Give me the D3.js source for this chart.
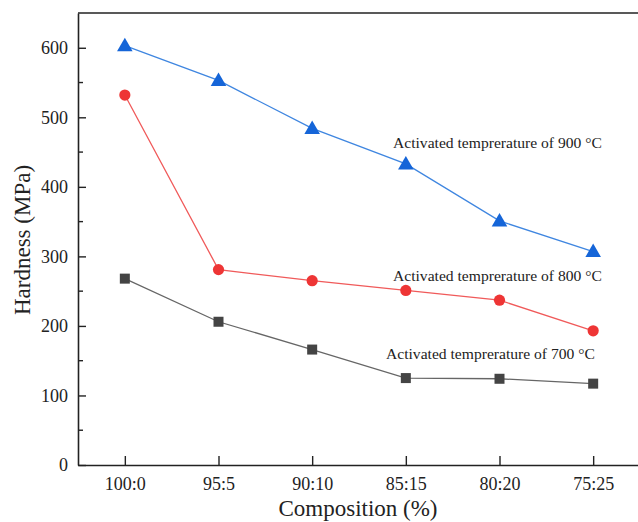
<!DOCTYPE html>
<html><head><meta charset="utf-8">
<script src="https://cdn.jsdelivr.net/npm/d3@7"></script>
<style>body{margin:0;background:#fff}svg{display:block}text{font-family:"Liberation Serif","Times New Roman",serif;fill:#222}</style>
</head><body><svg id="c" width="638" height="522"></svg>
<script>
const categories = ["100:0","95:5","90:10","85:15","80:20","75:25"];
const t900 = [603, 553, 484, 433, 351, 307];
const t800 = [532, 281, 265, 251, 237, 193];
const t700 = [268, 206, 166, 125, 124, 117];
const yTicks = [0,100,200,300,400,500,600];
const labels = ["Activated temprerature of 900 °C","Activated temprerature of 800 °C","Activated temprerature of 700 °C"];

const svg = d3.select("#c");
const L = 78, R = 640, T = 13, B = 465;
const x = d3.scalePoint().domain(categories).range([L, R]).padding(0.5);
const y = d3.scaleLinear().domain([0, 650]).range([B, T]);

svg.append("line").attr("x1",L).attr("x2",R).attr("y1",T).attr("y2",T).attr("stroke","#222").attr("stroke-width",1.6);
const ya = svg.append("g").attr("transform",`translate(${L},0)`)
  .call(d3.axisLeft(y).tickValues(yTicks).tickSizeInner(-8).tickSizeOuter(0).tickPadding(10));
ya.select(".domain").attr("stroke","#222").attr("stroke-width",1.6);
ya.selectAll(".tick line").attr("stroke","#222").attr("stroke-width",1.4);
ya.selectAll("text").style("font-size","18px").attr("fill","#222");
svg.append("g").selectAll("line").data(d3.range(50,650,100)).join("line")
  .attr("x1",L).attr("x2",L+5).attr("y1",d=>y(d)).attr("y2",d=>y(d)).attr("stroke","#222").attr("stroke-width",1.4);

const xa = svg.append("g").attr("transform",`translate(0,${B})`)
  .call(d3.axisBottom(x).tickSizeInner(-9).tickSizeOuter(0).tickPadding(12));
xa.select(".domain").attr("stroke","#222").attr("stroke-width",1.6);
xa.selectAll(".tick line").attr("stroke","#222").attr("stroke-width",1.4);
xa.selectAll("text").style("font-size","18px").attr("fill","#222");

svg.append("text").attr("x",358).attr("y",516).attr("text-anchor","middle").style("font-size","23px").text("Composition (%)");
svg.append("text").attr("transform","translate(30,240) rotate(-90)").attr("text-anchor","middle").style("font-size","23px").text("Hardness (MPa)");

const series = [
  {v:t900, line:"#3f86e0", fill:"#1565d8", shape:"tri"},
  {v:t800, line:"#f05a5a", fill:"#ee3535", shape:"circ"},
  {v:t700, line:"#666", fill:"#444", shape:"sq"}
];
const lg = d3.line().x((d,i)=>x(categories[i])).y(d=>y(d));
series.forEach(s=>{
  svg.append("path").datum(s.v).attr("d",lg).attr("fill","none").attr("stroke",s.line).attr("stroke-width",1.3);
  const g = svg.append("g");
  s.v.forEach((d,i)=>{
    const cx = x(categories[i]), cy = y(d);
    if(s.shape==="tri") g.append("path").attr("d",d3.symbol(d3.symbolTriangle,105)()).attr("transform",`translate(${cx},${cy+1})`).attr("fill",s.fill);
    else if(s.shape==="circ") g.append("circle").attr("cx",cx).attr("cy",cy).attr("r",5.6).attr("fill",s.fill);
    else g.append("rect").attr("x",cx-5).attr("y",cy-5).attr("width",10).attr("height",10).attr("fill",s.fill);
  });
});

const lp = [[393,148],[393,281],[386,359]];
labels.forEach((t,i)=>svg.append("text").attr("x",lp[i][0]).attr("y",lp[i][1]).style("font-size","15.6px").text(t));
</script></body></html>
